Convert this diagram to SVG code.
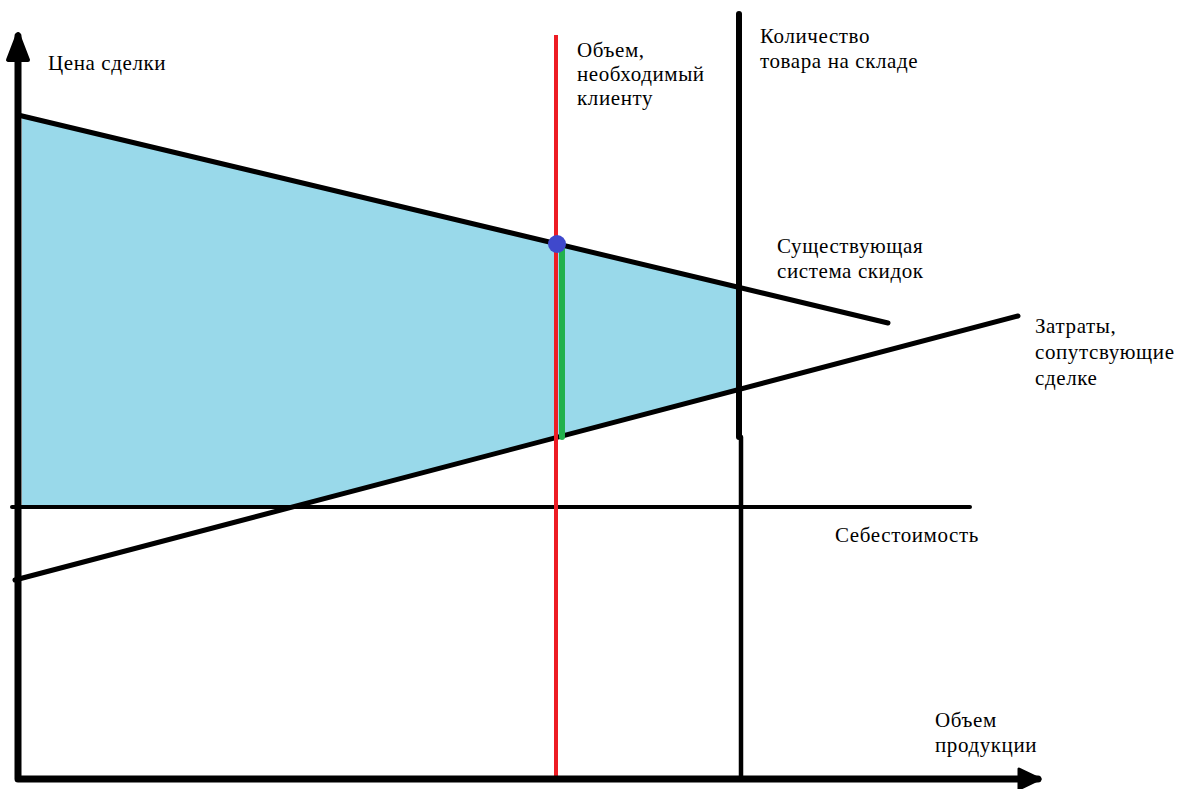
<svg xmlns="http://www.w3.org/2000/svg" width="1181" height="789" viewBox="0 0 1181 789">
<style>
.t{font-family:"Liberation Serif","Times New Roman",serif;font-size:21px;letter-spacing:0.6px;fill:#000}
.k{stroke:#000;fill:none;stroke-linecap:round;stroke-linejoin:round}
</style>
<rect width="1181" height="789" fill="#fff"/>
<g id="area">
<polygon points="22,115 740,287 740,389 292,507 22,507" fill="#99d9ea"/>
</g>
<g id="connectors">
<line class="k" x1="12" y1="507" x2="970" y2="507" stroke-width="4"/>
<line class="k" x1="18" y1="115" x2="888" y2="323" stroke-width="5"/>
<line class="k" x1="15" y1="580" x2="1018" y2="316" stroke-width="5"/>
<line class="k" x1="739" y1="14" x2="739" y2="437" stroke-width="6" stroke-linecap="butt"/>
<line class="k" x1="741" y1="437" x2="741" y2="779" stroke-width="4.5" stroke-linecap="butt"/>
<line x1="556" y1="35" x2="556" y2="779" stroke="#ed1c24" stroke-width="4"/>
<line x1="562" y1="247" x2="562" y2="437" stroke="#22b14c" stroke-width="6" stroke-linecap="round"/>
<circle cx="557" cy="244" r="9" fill="#3f48cc"/>
<polyline class="k" points="18,36 18,779 1038,779" stroke-width="7"/>
<polygon points="18,34 8,60 28,60" fill="#000" stroke="#000" stroke-width="4" stroke-linejoin="round"/>
<polygon points="1040,779 1019,769 1019,789" fill="#000" stroke="#000" stroke-width="3" stroke-linejoin="round"/>
</g>
<g id="label-price"><text class="t" x="48" y="70">Цена сделки</text></g>
<g id="label-client"><text class="t" x="577" y="57">Объем,</text><text class="t" x="577" y="81">необходимый</text><text class="t" x="577" y="105">клиенту</text></g>
<g id="label-stock"><text class="t" x="760" y="43">Количество</text><text class="t" x="760" y="68">товара на складе</text></g>
<g id="label-discount"><text class="t" x="777" y="253">Существующая</text><text class="t" x="777" y="278">система скидок</text></g>
<g id="label-costs"><text class="t" x="1035" y="333">Затраты,</text><text class="t" x="1035" y="359">сопутсвующие</text><text class="t" x="1035" y="385">сделке</text></g>
<g id="label-cost-price"><text class="t" x="835" y="542">Себестоимость</text></g>
<g id="label-volume"><text class="t" x="935" y="727">Объем</text><text class="t" x="935" y="752">продукции</text></g>
</svg>
